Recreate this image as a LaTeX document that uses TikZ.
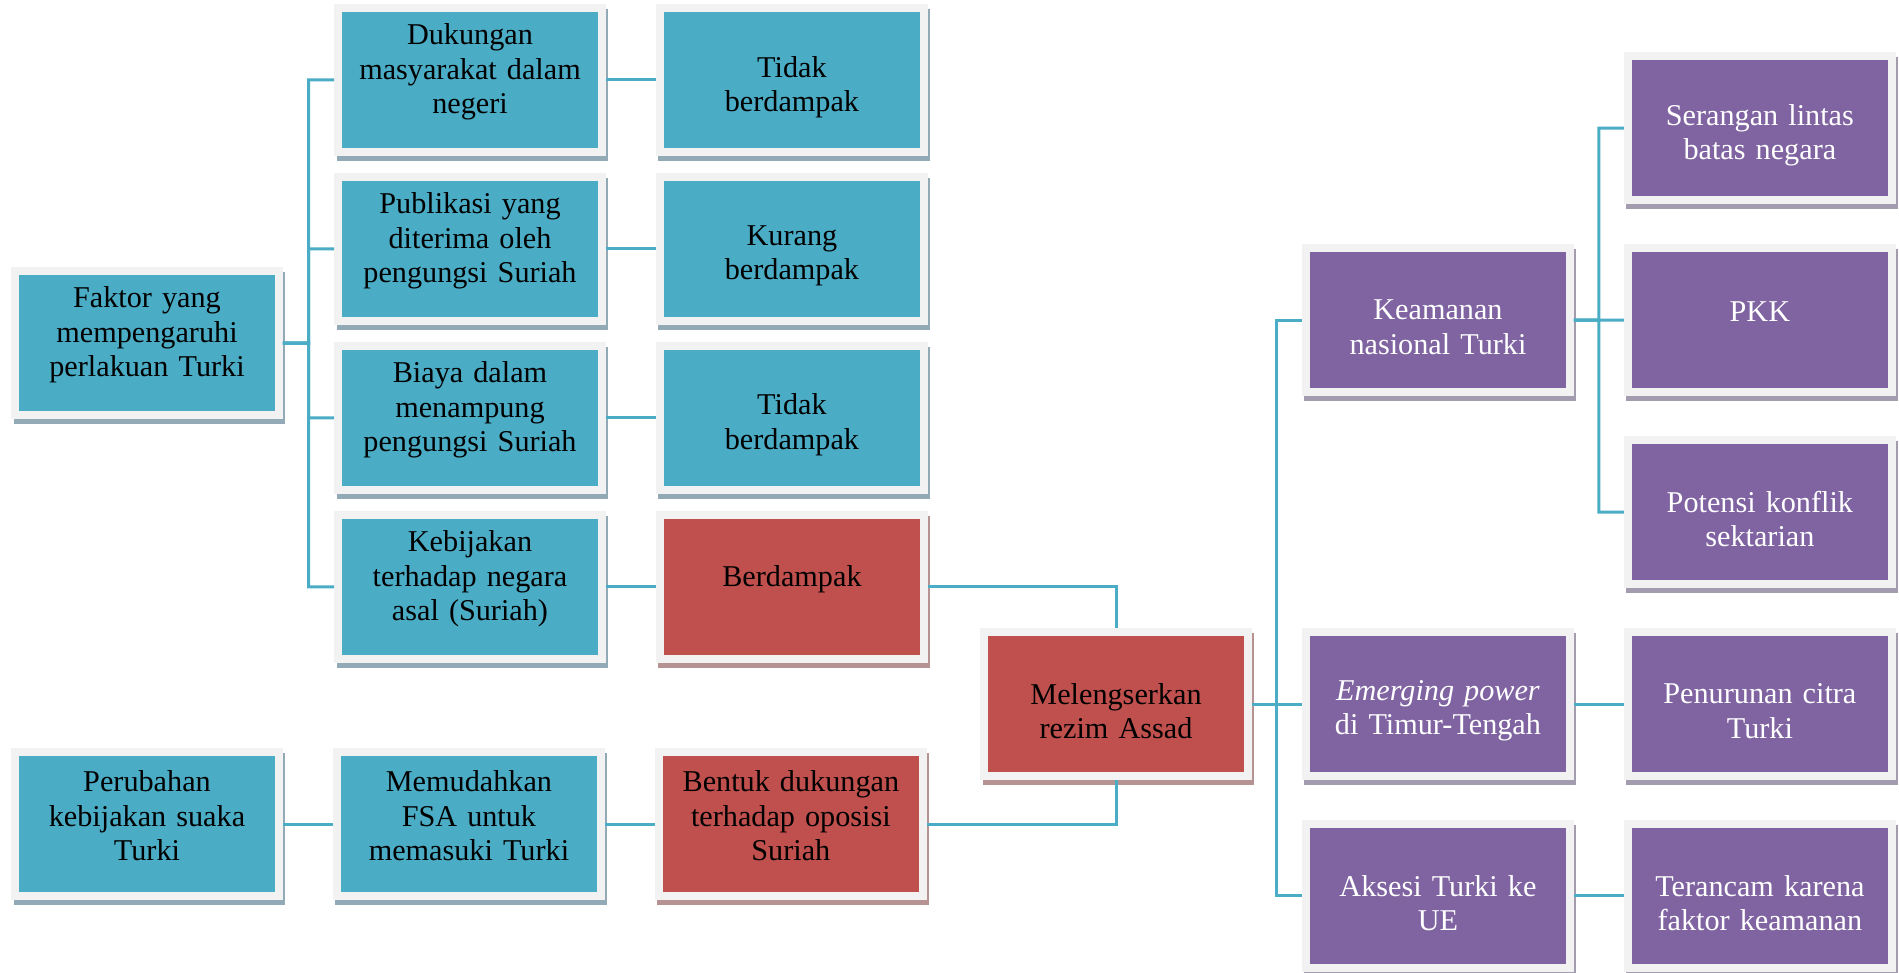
\documentclass[tikz,border=0pt]{standalone}
\usepackage{fontspec}
\setmainfont{Liberation Serif}
\usepackage{tikz}
\usetikzlibrary{positioning, shadows, calc}
\usepackage{xcolor}
\definecolor{tl}{RGB}{75,172,198}
\definecolor{rd}{RGB}{192,80,77}
\definecolor{pu}{RGB}{128,100,162}
\definecolor{fr}{RGB}{242,242,242}
\definecolor{tlsh}{RGB}{145,170,181}
\definecolor{rdsh}{RGB}{183,146,147}
\definecolor{push}{RGB}{163,156,174}

\begin{document}
\begin{tikzpicture}[
  x=0.02cm, y=-0.02cm,
  node distance=0.34cm and 1cm,
  box/.style  = {rectangle, draw=fr, line width=0.16cm, minimum width=5.28cm, minimum height=2.88cm,
                 text width=5.2cm, align=center, inner sep=0pt,
                 execute at end node={\endgraf\kern0.32cm}, font=\fontsize{17.2}{19.6}\selectfont},
  two/.style  = {execute at end node={\kern-0.6cm}},
  tbox/.style = {box, fill=tl, text=black,
                 drop shadow={shadow xshift=0.05cm, shadow yshift=-0.1cm, fill=tlsh, draw=tlsh, opacity=1}},
  rbox/.style = {box, fill=rd, text=black,
                 drop shadow={shadow xshift=0.05cm, shadow yshift=-0.1cm, fill=rdsh, draw=rdsh, opacity=1}},
  pbox/.style = {box, fill=pu, text=white,
                 drop shadow={shadow xshift=0.05cm, shadow yshift=-0.1cm, fill=push, draw=push, opacity=1}},
  conn/.style = {draw=tl, line width=0.06cm}
]
\useasboundingbox (0,0) rectangle (1899,973);

\node[tbox] (fk) at (147,343) {Faktor yang\\ mempengaruhi\\ perlakuan Turki};
\node[tbox] (dk) at (470,80)  {Dukungan\\ masyarakat dalam\\ negeri};
\node[tbox, below=of dk] (pb) {Publikasi yang\\ diterima oleh\\ pengungsi Suriah};
\node[tbox, below=of pb] (by) {Biaya dalam\\ menampung\\ pengungsi Suriah};
\node[tbox, below=of by] (kb) {Kebijakan\\ terhadap negara\\ asal (Suriah)};
\node[tbox, two, right=of dk] (td) {Tidak\\ berdampak};
\node[tbox, two, right=of pb] (kr) {Kurang\\ berdampak};
\node[tbox, two, right=of by] (tt) {Tidak\\ berdampak};
\node[rbox, right=of kb] (bd) {Berdampak};

\node[tbox] (pr) at (147,824) {Perubahan\\ kebijakan suaka\\ Turki};
\node[tbox, right=of pr] (mf) {Memudahkan\\ FSA untuk\\ memasuki Turki};
\node[rbox, right=of mf] (bt) {Bentuk dukungan\\ terhadap oposisi\\ Suriah};

\node[rbox, two] (ml) at (1116,704) {Melengserkan\\ rezim Assad};
\node[pbox, two, right=of ml]        (em) {\textit{Emerging power}\\ di Timur-Tengah};
\node[pbox, two, above=4.64cm of em] (km) {Keamanan\\ nasional Turki};
\node[pbox, two, below=0.8cm of em]  (ak) {Aksesi Turki ke\\ UE};
\node[pbox, right=of km]             (pk) {PKK};
\node[pbox, two, above=0.8cm of pk]  (sr) {Serangan lintas\\ batas negara};
\node[pbox, two, below=0.8cm of pk]  (pt) {Potensi konflik\\ sektarian};
\node[pbox, two, right=of em]        (pc) {Penurunan citra\\ Turki};
\node[pbox, two, right=of ak]        (tk) {Terancam karena\\ faktor keamanan};

% junctions of the branch lines
\coordinate (jf) at ($(fk.east)!.5!(dk.west |- fk.east)$);
\coordinate (jm) at ($(ml.east)!.5!(em.west)$);
\coordinate (jk) at ($(km.east)!.5!(pk.west)$);

\draw[conn](fk.east)--(jf)|-(dk.west); \draw[conn](fk.east)--(jf)|-(pb.west);
\draw[conn](fk.east)--(jf)|-(by.west); \draw[conn](fk.east)--(jf)|-(kb.west);
\draw[conn](dk)--(td); \draw[conn](pb)--(kr); \draw[conn](by)--(tt); \draw[conn](kb)--(bd);
\draw[conn](pr)--(mf); \draw[conn](mf)--(bt);
\draw[conn](bd.east)-|(ml.north); \draw[conn](bt.east)-|(ml.south);
\draw[conn](ml.east)--(jm)|-(km.west); \draw[conn](ml.east)--(jm)|-(em.west);
\draw[conn](ml.east)--(jm)|-(ak.west);
\draw[conn](km.east)--(jk)|-(sr.west); \draw[conn](km.east)--(jk)|-(pk.west);
\draw[conn](km.east)--(jk)|-(pt.west);
\draw[conn](em)--(pc); \draw[conn](ak)--(tk);
\end{tikzpicture}
\end{document}
